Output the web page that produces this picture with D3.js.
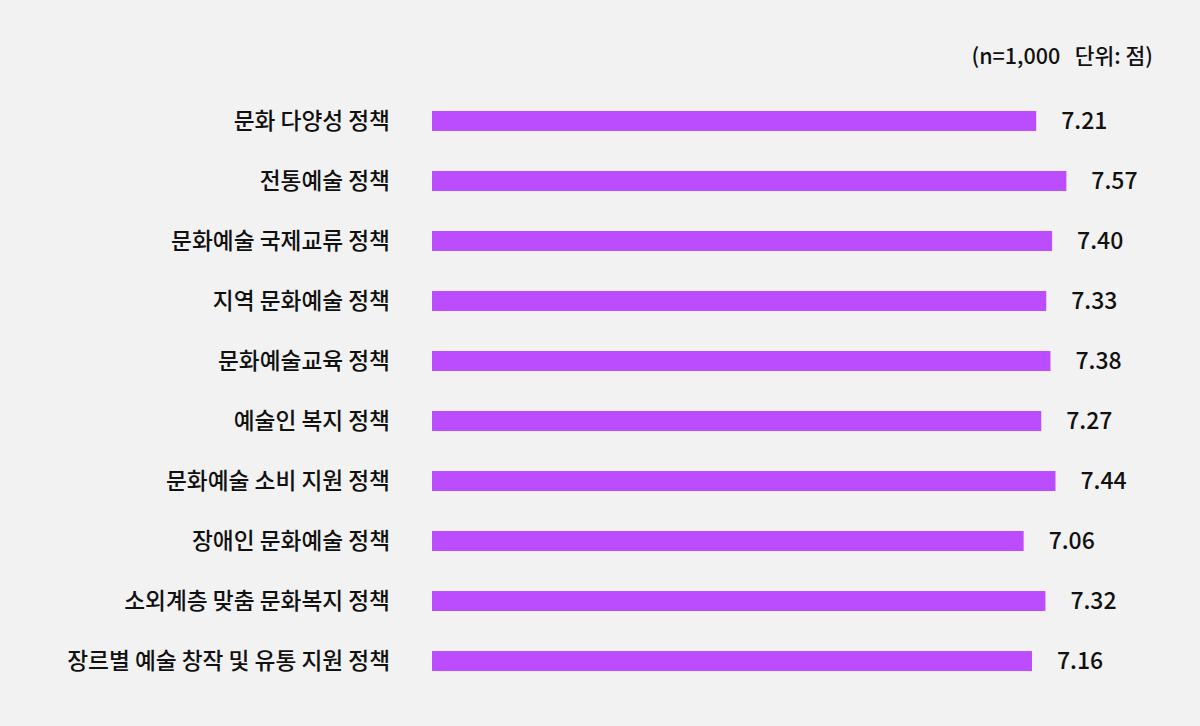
<!DOCTYPE html>
<html>
<head>
<meta charset="utf-8">
<script src="https://cdn.jsdelivr.net/npm/d3@7"></script>
<style>
  html, body { margin: 0; padding: 0; background: #f2f2f2; }
  svg { display: block; }
  text { font-family: "Noto Sans CJK KR", "Noto Sans", sans-serif; fill: #111; font-weight: 500; }
</style>
</head>
<body>
<main></main>
<script>
var categories = [
  "문화 다양성 정책",
  "전통예술 정책",
  "문화예술 국제교류 정책",
  "지역 문화예술 정책",
  "문화예술교육 정책",
  "예술인 복지 정책",
  "문화예술 소비 지원 정책",
  "장애인 문화예술 정책",
  "소외계층 맞춤 문화복지 정책",
  "장르별 예술 창작 및 유통 지원 정책"
];
var scores = [7.21, 7.57, 7.40, 7.33, 7.38, 7.27, 7.44, 7.06, 7.32, 7.16];
var note = "(n=1,000\u00a0\u00a0 단위: 점)";

var w = 1200, h = 726;
var svg = d3.select("main")
            .append("svg")
            .attr("width", w)
            .attr("height", h);

svg.append("rect")
   .attr("width", w)
   .attr("height", h)
   .attr("fill", "#f2f2f2");

var x = d3.scaleLinear()
          .domain([0, 10])
          .range([432, 1270]);

var y = d3.scaleBand()
          .domain(categories)
          .range([91, 691])
          .paddingInner(0.667)
          .paddingOuter(0.333);

svg.append("text")
   .attr("x", 1153)
   .attr("y", 64)
   .attr("text-anchor", "end")
   .attr("font-size", "21.5px")
   .text(note);

var rows = svg.selectAll("g.row")
              .data(categories)
              .enter()
              .append("g")
              .attr("class", "row");

rows.append("rect")
    .attr("x", x(0))
    .attr("y", function(d) { return y(d); })
    .attr("width", function(d, i) { return x(scores[i]) - x(0); })
    .attr("height", y.bandwidth())
    .attr("fill", "#bb4dff");

rows.append("text")
    .attr("x", 390)
    .attr("y", function(d) { return y(d) + y.bandwidth() / 2; })
    .attr("dy", "0.35em")
    .attr("text-anchor", "end")
    .attr("font-size", "22.7px")
    .text(function(d) { return d; });

rows.append("text")
    .attr("x", function(d, i) { return x(scores[i]) + 25; })
    .attr("y", function(d) { return y(d) + y.bandwidth() / 2; })
    .attr("dy", "0.36em")
    .attr("font-size", "23px")
    .text(function(d, i) { return scores[i].toFixed(2); });
</script>
</body>
</html>
